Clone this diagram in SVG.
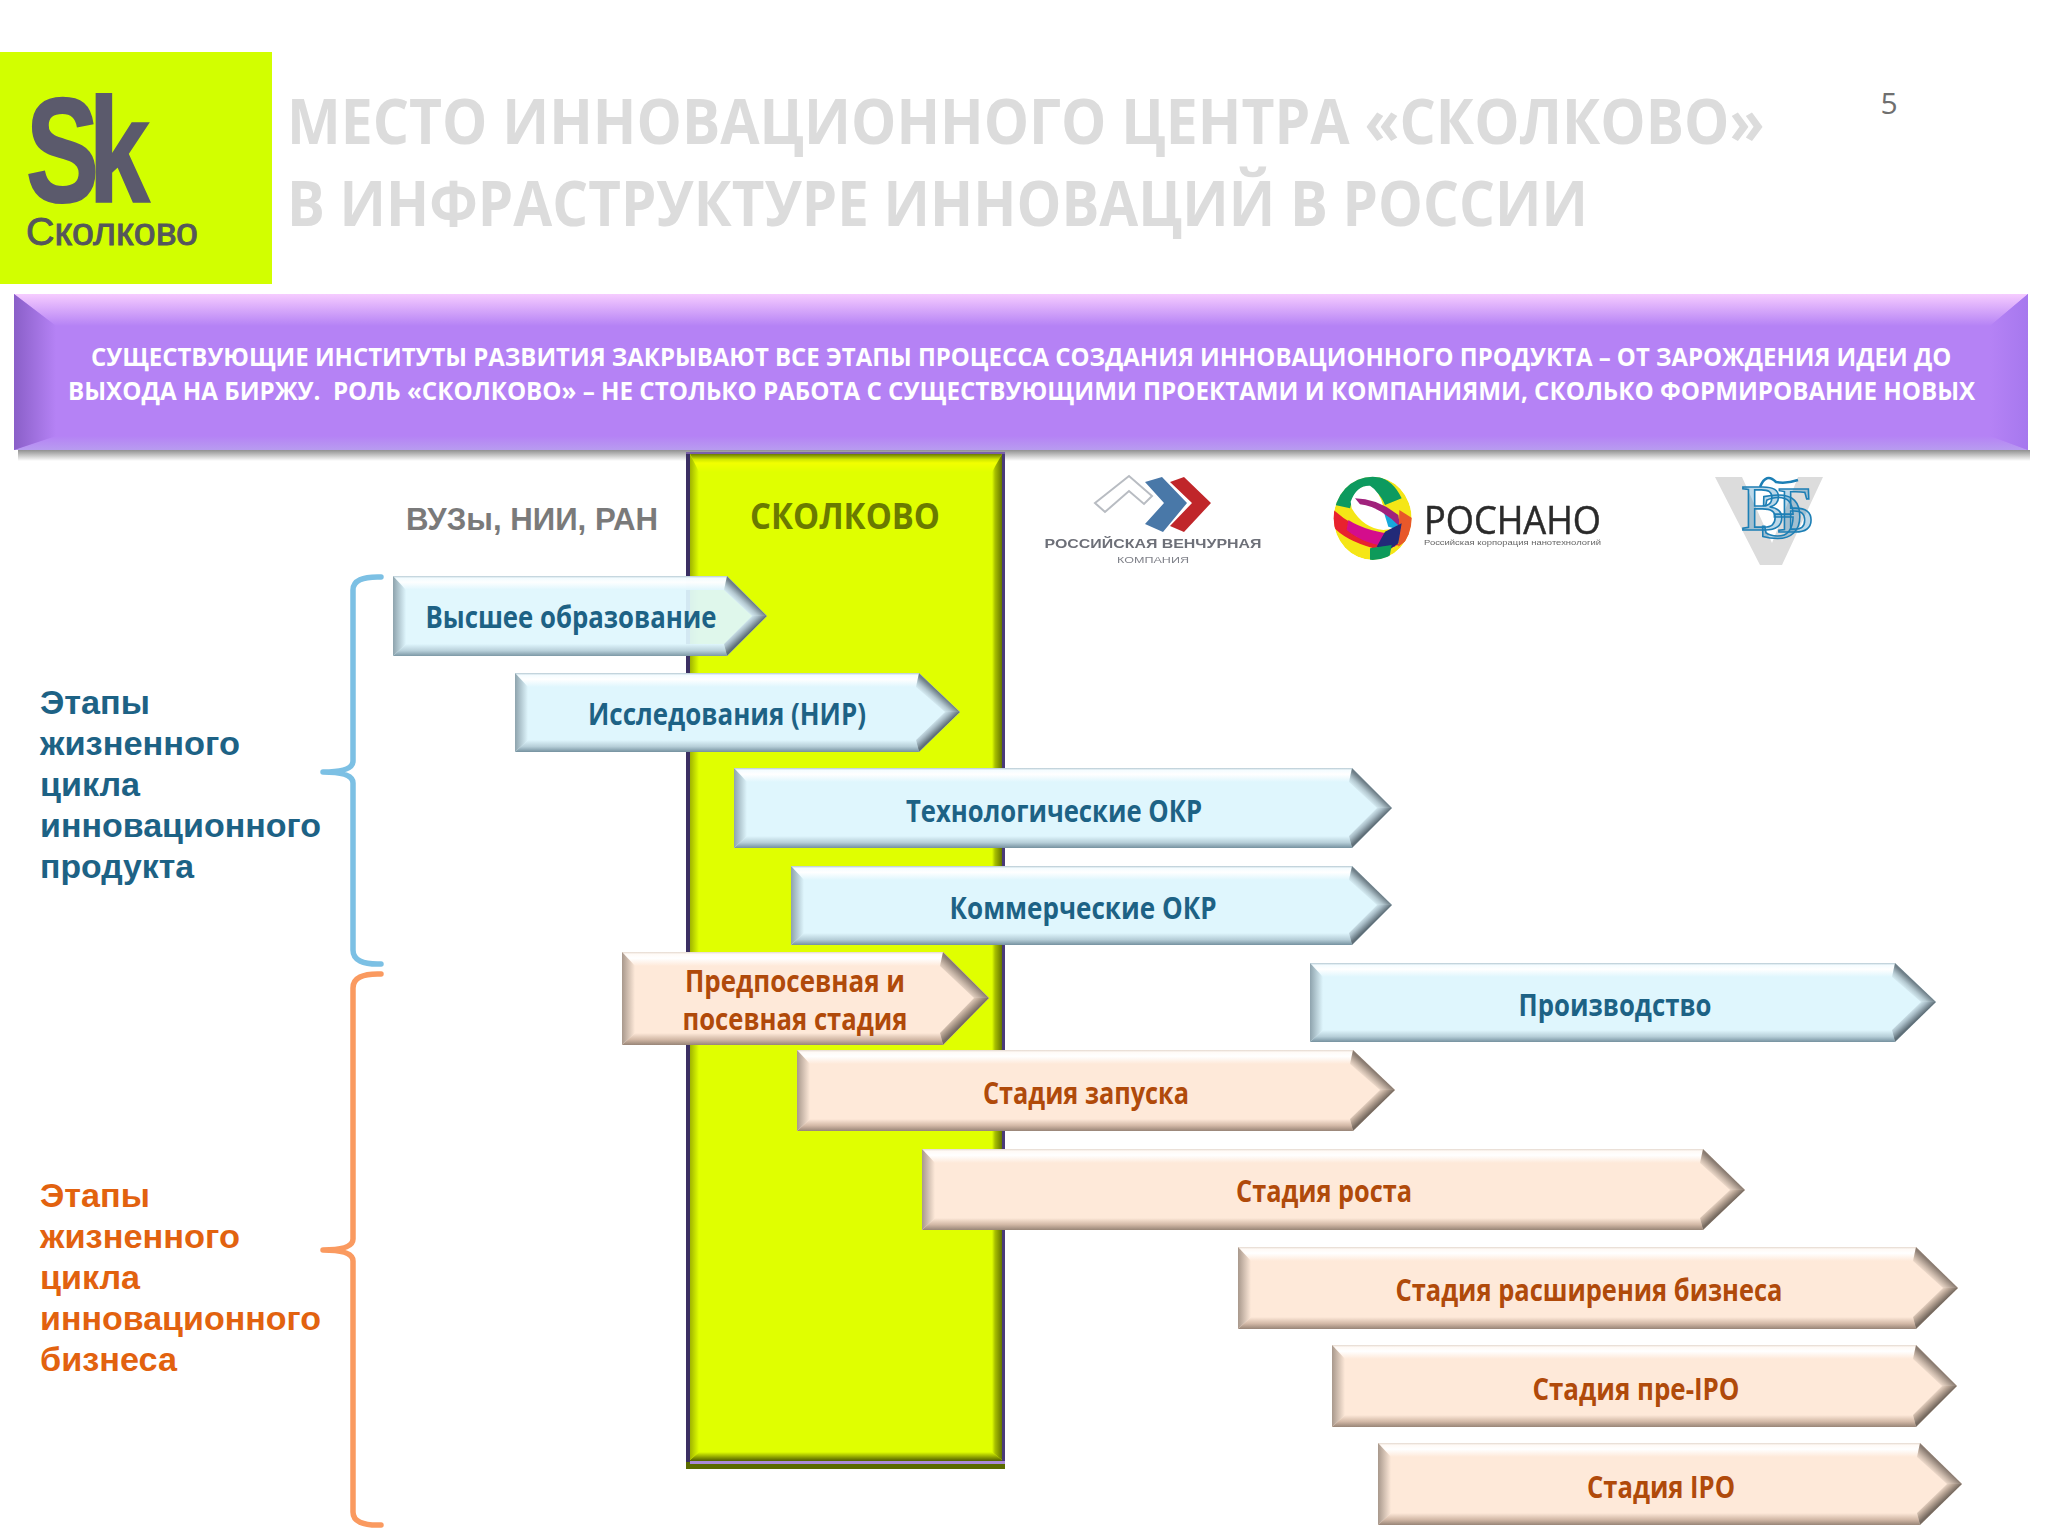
<svg xmlns="http://www.w3.org/2000/svg" width="2048" height="1536" viewBox="0 0 2048 1536">
<style>
.ti{font:700 63px "Open Sans","Noto Sans",sans-serif;fill:#dcdcdc}
.bn{font:700 25px "Open Sans","Noto Sans",sans-serif;fill:#fff}
.lb{font:700 30px "Open Sans","Noto Sans",sans-serif;text-anchor:middle}
.b .lb{fill:#1d6285}.o .lb{fill:#b04a0a}
.st{font:700 34px "Liberation Sans",sans-serif}
.bf{fill:#dff6fd}.of{fill:#fee9d9}
.b .t{fill:url(#bt)}.b .m{fill:url(#bm)}.b .l{fill:url(#bl)}.b .u{fill:url(#bu)}.b .d{fill:url(#bd)}
.o .t{fill:url(#ot)}.o .m{fill:url(#om)}.o .l{fill:url(#ol)}.o .u{fill:url(#ou)}.o .d{fill:url(#od)}
.br{fill:none;stroke-width:5.5;stroke-linejoin:round;stroke-linecap:round}
</style>
<defs>
<linearGradient id="bt" x1="0" y1="0" x2="0" y2="1"><stop offset="0" stop-color="#b4c8d2"/><stop offset=".15" stop-color="#f4fcff"/><stop offset=".45" stop-color="#ffffff"/><stop offset="1" stop-color="#dff6fd"/></linearGradient>
<linearGradient id="bm" x1="0" y1="0" x2="0" y2="1"><stop offset="0" stop-color="#dff6fd"/><stop offset=".55" stop-color="#b6ced8"/><stop offset="1" stop-color="#75919f"/></linearGradient>
<linearGradient id="bl" x1="0" y1="0" x2="1" y2="0"><stop offset="0" stop-color="#8ea3ad"/><stop offset="1" stop-color="#dff6fd"/></linearGradient>
<linearGradient id="bu" x1=".5" y1=".5" x2=".3" y2=".7"><stop offset="0" stop-color="#6f7f88"/><stop offset=".5" stop-color="#b4c8d0"/><stop offset="1" stop-color="#dff6fd"/></linearGradient>
<linearGradient id="bd" x1=".5" y1=".5" x2=".3" y2=".3"><stop offset="0" stop-color="#5f6f78"/><stop offset=".5" stop-color="#a6bac4"/><stop offset="1" stop-color="#dff6fd"/></linearGradient>
<linearGradient id="ot" x1="0" y1="0" x2="0" y2="1"><stop offset="0" stop-color="#e4d8ce"/><stop offset=".15" stop-color="#fffaf6"/><stop offset=".45" stop-color="#ffffff"/><stop offset="1" stop-color="#fee9d9"/></linearGradient>
<linearGradient id="om" x1="0" y1="0" x2="0" y2="1"><stop offset="0" stop-color="#fee9d9"/><stop offset=".55" stop-color="#d2b8a6"/><stop offset="1" stop-color="#988577"/></linearGradient>
<linearGradient id="ol" x1="0" y1="0" x2="1" y2="0"><stop offset="0" stop-color="#a8988c"/><stop offset="1" stop-color="#fee9d9"/></linearGradient>
<linearGradient id="ou" x1=".5" y1=".5" x2=".3" y2=".7"><stop offset="0" stop-color="#8a7c72"/><stop offset=".5" stop-color="#c8b6a8"/><stop offset="1" stop-color="#fee9d9"/></linearGradient>
<linearGradient id="od" x1=".5" y1=".5" x2=".3" y2=".3"><stop offset="0" stop-color="#766a60"/><stop offset=".5" stop-color="#bca898"/><stop offset="1" stop-color="#fee9d9"/></linearGradient>
<linearGradient id="pt" x1="0" y1="0" x2="0" y2="1"><stop offset="0" stop-color="#f6ccff"/><stop offset="1" stop-color="#b582f5"/></linearGradient>
<linearGradient id="pb" x1="0" y1="0" x2="0" y2="1"><stop offset="0" stop-color="#b582f5"/><stop offset="1" stop-color="#b89cf0"/></linearGradient>
<linearGradient id="pl" x1="0" y1="0" x2="1" y2="0"><stop offset="0" stop-color="#8a5fc8"/><stop offset="1" stop-color="#b582f5"/></linearGradient>
<linearGradient id="pr" x1="1" y1="0" x2="0" y2="0"><stop offset="0" stop-color="#a678ee"/><stop offset="1" stop-color="#b582f5"/></linearGradient>
<linearGradient id="ps" x1="0" y1="0" x2="0" y2="1"><stop offset="0" stop-color="#909090"/><stop offset="1" stop-color="#ffffff"/></linearGradient>
<linearGradient id="yt" x1="0" y1="0" x2="0" y2="1"><stop offset="0" stop-color="#6a7a00"/><stop offset=".3" stop-color="#d0e800"/><stop offset=".5" stop-color="#f2ff00"/><stop offset="1" stop-color="#e0ff00"/></linearGradient>
<linearGradient id="yr" x1="0" y1="0" x2="1" y2="0"><stop offset="0" stop-color="#e0ff00"/><stop offset=".3" stop-color="#a8c000"/><stop offset="1" stop-color="#657400"/></linearGradient>
<linearGradient id="yb" x1="0" y1="0" x2="0" y2="1"><stop offset="0" stop-color="#e0ff00"/><stop offset="1" stop-color="#5f6e00"/></linearGradient>
<linearGradient id="yl" x1="0" y1="0" x2="1" y2="0"><stop offset="0" stop-color="#a0b400"/><stop offset="1" stop-color="#e0ff00"/></linearGradient>
<filter id="soft" x="-5%" y="-5%" width="110%" height="110%"><feGaussianBlur stdDeviation=".7"/></filter>
<clipPath id="oval"><ellipse cx="158" cy="160" rx="117" ry="125"/></clipPath>
</defs>
<rect width="2048" height="1536" fill="#fff"/>

<g id="logo-skolkovo">
<rect x="0" y="52" width="272" height="232" fill="#d2ff00"/>
<text transform="translate(26,202) scale(.74,1)" font-family="Liberation Sans" font-weight="700" font-size="148" letter-spacing="-14" fill="#5b5a6c" stroke="#5b5a6c" stroke-width="2">Sk</text>
<text x="26" y="245" font-family="Liberation Sans" font-size="38" textLength="172" lengthAdjust="spacingAndGlyphs" fill="#55565c" stroke="#55565c" stroke-width=".9">Сколково</text>
</g>

<g id="title">
<text class="ti" transform="translate(287,144) scale(.92,1)" textLength="1606" lengthAdjust="spacingAndGlyphs">МЕСТО ИННОВАЦИОННОГО ЦЕНТРА «СКОЛКОВО»</text>
<text class="ti" transform="translate(287,226) scale(.92,1)" textLength="1414" lengthAdjust="spacingAndGlyphs">В ИНФРАСТРУКТУРЕ ИННОВАЦИЙ В РОССИИ</text>
</g>
<text id="page" x="1889" y="114" font-family="Open Sans" font-size="30" text-anchor="middle" fill="#6f6f6f">5</text>

<g id="banner">
<rect x="18" y="450" width="2012" height="11" fill="url(#ps)"/>
<rect x="14" y="294" width="2014" height="156" fill="#b582f5"/>
<polygon points="14,294 2028,294 1990,326 56,326" fill="url(#pt)"/>
<polygon points="14,450 2028,450 1990,436 56,436" fill="url(#pb)"/>
<polygon points="14,294 56,326 56,436 14,450" fill="url(#pl)"/>
<polygon points="2028,294 1990,326 1990,436 2028,450" fill="url(#pr)"/>
<text class="bn" transform="translate(91,366) scale(.92,1)" textLength="2022" lengthAdjust="spacingAndGlyphs">СУЩЕСТВУЮЩИЕ ИНСТИТУТЫ РАЗВИТИЯ ЗАКРЫВАЮТ ВСЕ ЭТАПЫ ПРОЦЕССА СОЗДАНИЯ ИННОВАЦИОННОГО ПРОДУКТА – ОТ ЗАРОЖДЕНИЯ ИДЕИ ДО</text>
<text class="bn" transform="translate(68,400) scale(.92,1)" textLength="2073" lengthAdjust="spacingAndGlyphs" xml:space="preserve">ВЫХОДА НА БИРЖУ.  РОЛЬ «СКОЛКОВО» – НЕ СТОЛЬКО РАБОТА С СУЩЕСТВУЮЩИМИ ПРОЕКТАМИ И КОМПАНИЯМИ, СКОЛЬКО ФОРМИРОВАНИЕ НОВЫХ</text>
</g>

<g id="column-skolkovo">
<rect x="686" y="452" width="319" height="1017" fill="#5a6a00"/>
<rect x="686" y="452" width="4" height="1010" fill="#3b2f63"/>
<rect x="1002" y="452" width="3" height="1010" fill="#4a3a78"/>
<rect x="686" y="452" width="319" height="2" fill="#7a60a8"/>
<rect x="690" y="1461" width="315" height="3" fill="#a98ad8"/>
<rect x="690" y="454" width="312" height="1006" fill="#e0ff00"/>
<polygon points="690,454 1002,454 992,472 699,472" fill="url(#yt)"/>
<polygon points="1002,454 992,472 992,1452 1002,1460" fill="url(#yr)"/>
<polygon points="690,1460 1002,1460 992,1452 699,1452" fill="url(#yb)"/>
<polygon points="690,454 699,472 699,1452 690,1460" fill="url(#yl)"/>
<text x="845" y="529" font-family="Open Sans" font-weight="700" font-size="35" text-anchor="middle" textLength="190" lengthAdjust="spacingAndGlyphs" fill="#6a7a00">СКОЛКОВО</text>
</g>

<text id="header-vuz" x="406" y="530" font-family="Liberation Sans" font-weight="700" font-size="32" textLength="252" lengthAdjust="spacingAndGlyphs" fill="#7a7a7a">ВУЗы, НИИ, РАН</text>

<g id="logo-rvc" filter="url(#soft)">
<polygon points="1095,503 1129,476 1152,496 1144,504 1129,491 1105,512" fill="#fff" stroke="#b8bcc2" stroke-width="2"/>
<polygon points="1145,482 1162,477 1187,503 1163,532 1145,524 1164,503" fill="#4a78a8"/>
<polygon points="1170,482 1184,477 1211,503 1184,532 1170,526 1192,503" fill="#c0282c"/>
<text x="1153" y="548" font-family="Liberation Sans" font-weight="700" font-size="12.5" text-anchor="middle" textLength="217" lengthAdjust="spacingAndGlyphs" fill="#6d6f78">РОССИЙСКАЯ ВЕНЧУРНАЯ</text>
<text x="1153" y="563" font-family="Liberation Sans" font-size="9" text-anchor="middle" textLength="72" lengthAdjust="spacingAndGlyphs" fill="#80828a">КОМПАНИЯ</text>
</g>

<g id="logo-rosnano" filter="url(#soft)">
<g transform="translate(1320,465) scale(.3333)">
<g clip-path="url(#oval)">
<ellipse cx="158" cy="160" rx="117" ry="125" fill="#f5e616"/>
<path d="M45,120 Q60,40 150,30 Q215,35 245,100 L195,120 Q175,70 130,65 Q100,80 90,130 Z" fill="#109a5e"/>
<path d="M92,110 Q110,60 150,62 Q180,80 190,125 L235,190 L190,195 Q130,190 95,130 Z" fill="#fff"/>
<path d="M185,120 L232,150 L240,195 L205,185 Z" fill="#18a8dc"/>
<path d="M105,100 Q170,100 235,150 L240,185 Q180,125 120,118 Z" fill="#a0207c"/>
<path d="M35,130 Q100,190 170,205 L240,240 L160,250 Q70,225 35,180 Z" fill="#e8202e"/>
<path d="M85,165 Q140,200 235,210 L225,245 Q140,245 80,195 Z" fill="#d4108c"/>
<path d="M238,135 L285,165 L275,215 L235,245 Z" fill="#e8582a"/>
<path d="M195,200 L245,175 L235,235 L200,260 L170,245 Z" fill="#202a78"/>
<path d="M150,250 L215,240 L205,295 L150,295 Z" fill="#0f9a5a"/>
</g>
</g>
<text x="1424" y="534" font-family="Open Sans" font-size="38" textLength="177" lengthAdjust="spacingAndGlyphs" fill="#2a2a2a" stroke="#2a2a2a" stroke-width=".5">РОСНАНО</text>
<text x="1424" y="545" font-family="Liberation Sans" font-size="7" textLength="177" lengthAdjust="spacingAndGlyphs" fill="#666">Российская корпорация нанотехнологий</text>
</g>

<g id="logo-veb" filter="url(#soft)">
<polygon points="1715,477 1742,477 1772,543 1798,477 1823,477 1782,565 1760,565" fill="#dcdcdc"/>
<text x="1741 1759 1777" y="530 538 532" font-family="Liberation Serif" font-size="66" fill="#1f7fb5" fill-opacity=".3" stroke="#1f7fb5" stroke-width="1.6">ВЭБ</text>
<path d="M1760,487 Q1766,472 1776,482 Q1786,484 1798,480" fill="none" stroke="#1f7fb5" stroke-width="2.5"/>
</g>

<g id="connectors">
<path class="br" stroke="#7cc0e4" d="M381,577 Q353,576 353,590 L353,761 Q353,772 323,772 Q353,772 353,783 L353,950 Q353,965 381,964"/>
<path class="br" stroke="#fa9a60" d="M381,974 Q353,973 353,988 L353,1239 Q353,1250 323,1250 Q353,1250 353,1261 L353,1512 Q353,1526 381,1525"/>
</g>

<g id="label-product" class="st" fill="#1d6285">
<text x="40" y="714" textLength="110" lengthAdjust="spacingAndGlyphs">Этапы</text>
<text x="40" y="755" textLength="200" lengthAdjust="spacingAndGlyphs">жизненного</text>
<text x="40" y="796" textLength="100" lengthAdjust="spacingAndGlyphs">цикла</text>
<text x="40" y="837" textLength="281" lengthAdjust="spacingAndGlyphs">инновационного</text>
<text x="40" y="878" textLength="154" lengthAdjust="spacingAndGlyphs">продукта</text>
</g>
<g id="label-business" class="st" fill="#e2620f">
<text x="40" y="1207" textLength="110" lengthAdjust="spacingAndGlyphs">Этапы</text>
<text x="40" y="1248" textLength="200" lengthAdjust="spacingAndGlyphs">жизненного</text>
<text x="40" y="1289" textLength="100" lengthAdjust="spacingAndGlyphs">цикла</text>
<text x="40" y="1330" textLength="281" lengthAdjust="spacingAndGlyphs">инновационного</text>
<text x="40" y="1371" textLength="137" lengthAdjust="spacingAndGlyphs">бизнеса</text>
</g>

<g id="arrow-higher-ed" class="b">
<polygon class="bf" fill-opacity=".93" points="393,576 727,576 767,616 727,656 393,656"/>
<polygon class="t" fill-opacity=".93" points="393,576 727,576 724,590 406,590"/><polygon class="m" fill-opacity=".93" points="393,656 727,656 724,644 406,644"/><polygon class="l" points="393,576 406,590 406,644 393,656"/><polygon class="u" points="727,576 767,616 752,616 724,590"/><polygon class="d" points="767,616 727,656 724,644 752,616"/>
<text class="lb" x="571" y="628" textLength="291" lengthAdjust="spacingAndGlyphs">Высшее образование</text>
</g>
<g id="arrow-research" class="b">
<polygon class="bf" points="515,673 919,673 960,712 919,752 515,752"/>
<polygon class="t" points="515,673 919,673 916,687 528,687"/><polygon class="m" points="515,752 919,752 916,740 528,740"/><polygon class="l" points="515,673 528,687 528,740 515,752"/><polygon class="u" points="919,673 960,712 945,712 916,687"/><polygon class="d" points="960,712 919,752 916,740 945,712"/>
<text class="lb" x="727" y="725" textLength="278" lengthAdjust="spacingAndGlyphs">Исследования (НИР)</text>
</g>
<g id="arrow-tech" class="b">
<polygon class="bf" points="734,768 1352,768 1392,808 1352,848 734,848"/>
<polygon class="t" points="734,768 1352,768 1349,782 747,782"/><polygon class="m" points="734,848 1352,848 1349,836 747,836"/><polygon class="l" points="734,768 747,782 747,836 734,848"/><polygon class="u" points="1352,768 1392,808 1377,808 1349,782"/><polygon class="d" points="1392,808 1352,848 1349,836 1377,808"/>
<text class="lb" x="1054" y="822" textLength="296" lengthAdjust="spacingAndGlyphs">Технологические ОКР</text>
</g>
<g id="arrow-comm" class="b">
<polygon class="bf" points="791,866 1352,866 1392,905 1352,945 791,945"/>
<polygon class="t" points="791,866 1352,866 1349,880 804,880"/><polygon class="m" points="791,945 1352,945 1349,933 804,933"/><polygon class="l" points="791,866 804,880 804,933 791,945"/><polygon class="u" points="1352,866 1392,905 1377,905 1349,880"/><polygon class="d" points="1392,905 1352,945 1349,933 1377,905"/>
<text class="lb" x="1083" y="919" textLength="267" lengthAdjust="spacingAndGlyphs">Коммерческие ОКР</text>
</g>
<g id="arrow-production" class="b">
<polygon class="bf" points="1310,963 1895,963 1936,1002 1895,1042 1310,1042"/>
<polygon class="t" points="1310,963 1895,963 1892,977 1323,977"/><polygon class="m" points="1310,1042 1895,1042 1892,1030 1323,1030"/><polygon class="l" points="1310,963 1323,977 1323,1030 1310,1042"/><polygon class="u" points="1895,963 1936,1002 1921,1002 1892,977"/><polygon class="d" points="1936,1002 1895,1042 1892,1030 1921,1002"/>
<text class="lb" x="1615" y="1016" textLength="193" lengthAdjust="spacingAndGlyphs">Производство</text>
</g>
<g id="arrow-seed" class="o">
<polygon class="of" points="622,952 943,952 989,998 943,1045 622,1045"/>
<polygon class="t" points="622,952 943,952 940,966 635,966"/><polygon class="m" points="622,1045 943,1045 940,1033 635,1033"/><polygon class="l" points="622,952 635,966 635,1033 622,1045"/><polygon class="u" points="943,952 989,998 974,998 940,966"/><polygon class="d" points="989,998 943,1045 940,1033 974,998"/>
<text class="lb" x="795" y="992" textLength="220" lengthAdjust="spacingAndGlyphs">Предпосевная и</text>
<text class="lb" x="795" y="1030" textLength="225" lengthAdjust="spacingAndGlyphs">посевная стадия</text>
</g>
<g id="arrow-launch" class="o">
<polygon class="of" points="797,1050 1353,1050 1395,1090 1353,1131 797,1131"/>
<polygon class="t" points="797,1050 1353,1050 1350,1064 810,1064"/><polygon class="m" points="797,1131 1353,1131 1350,1119 810,1119"/><polygon class="l" points="797,1050 810,1064 810,1119 797,1131"/><polygon class="u" points="1353,1050 1395,1090 1380,1090 1350,1064"/><polygon class="d" points="1395,1090 1353,1131 1350,1119 1380,1090"/>
<text class="lb" x="1086" y="1104" textLength="206" lengthAdjust="spacingAndGlyphs">Стадия запуска</text>
</g>
<g id="arrow-growth" class="o">
<polygon class="of" points="922,1149 1703,1149 1745,1190 1703,1230 922,1230"/>
<polygon class="t" points="922,1149 1703,1149 1700,1163 935,1163"/><polygon class="m" points="922,1230 1703,1230 1700,1218 935,1218"/><polygon class="l" points="922,1149 935,1163 935,1218 922,1230"/><polygon class="u" points="1703,1149 1745,1190 1730,1190 1700,1163"/><polygon class="d" points="1745,1190 1703,1230 1700,1218 1730,1190"/>
<text class="lb" x="1324" y="1202" textLength="176" lengthAdjust="spacingAndGlyphs">Стадия роста</text>
</g>
<g id="arrow-expansion" class="o">
<polygon class="of" points="1238,1247 1916,1247 1958,1288 1916,1329 1238,1329"/>
<polygon class="t" points="1238,1247 1916,1247 1913,1261 1251,1261"/><polygon class="m" points="1238,1329 1916,1329 1913,1317 1251,1317"/><polygon class="l" points="1238,1247 1251,1261 1251,1317 1238,1329"/><polygon class="u" points="1916,1247 1958,1288 1943,1288 1913,1261"/><polygon class="d" points="1958,1288 1916,1329 1913,1317 1943,1288"/>
<text class="lb" x="1589" y="1301" textLength="387" lengthAdjust="spacingAndGlyphs">Стадия расширения бизнеса</text>
</g>
<g id="arrow-preipo" class="o">
<polygon class="of" points="1332,1345 1916,1345 1957,1386 1916,1427 1332,1427"/>
<polygon class="t" points="1332,1345 1916,1345 1913,1359 1345,1359"/><polygon class="m" points="1332,1427 1916,1427 1913,1415 1345,1415"/><polygon class="l" points="1332,1345 1345,1359 1345,1415 1332,1427"/><polygon class="u" points="1916,1345 1957,1386 1942,1386 1913,1359"/><polygon class="d" points="1957,1386 1916,1427 1913,1415 1942,1386"/>
<text class="lb" x="1636" y="1400" textLength="207" lengthAdjust="spacingAndGlyphs">Стадия пре-IPO</text>
</g>
<g id="arrow-ipo" class="o">
<polygon class="of" points="1378,1443 1920,1443 1962,1484 1920,1525 1378,1525"/>
<polygon class="t" points="1378,1443 1920,1443 1917,1457 1391,1457"/><polygon class="m" points="1378,1525 1920,1525 1917,1513 1391,1513"/><polygon class="l" points="1378,1443 1391,1457 1391,1513 1378,1525"/><polygon class="u" points="1920,1443 1962,1484 1947,1484 1917,1457"/><polygon class="d" points="1962,1484 1920,1525 1917,1513 1947,1484"/>
<text class="lb" x="1661" y="1498" textLength="148" lengthAdjust="spacingAndGlyphs">Стадия IPO</text>
</g>
</svg>
